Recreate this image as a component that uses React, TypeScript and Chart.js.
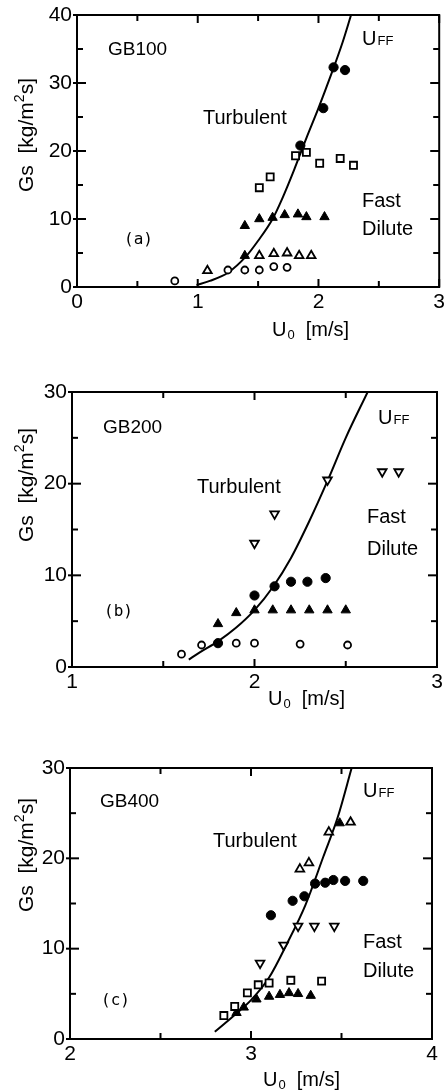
import React, { useEffect, useRef } from "react";
import { Chart, registerables } from "chart.js";
Chart.register(...registerables);

// ---------- Panel (a) GB100 ----------
const aOpenCircleU = [0.81, 1.25, 1.39, 1.51, 1.63, 1.74];
const aOpenCircleG = [0.9, 2.5, 2.5, 2.5, 3.0, 2.9];
const aOpenTriU = [1.08, 1.51, 1.63, 1.74, 1.84, 1.94];
const aOpenTriG = [2.4, 4.6, 4.9, 5.0, 4.6, 4.6];
const aFilledTriU = [1.39, 1.39, 1.51, 1.62, 1.72, 1.83, 1.9, 2.05];
const aFilledTriG = [4.6, 9.0, 10.0, 10.2, 10.6, 10.7, 10.3, 10.3];
const aOpenSquareU = [1.51, 1.6, 1.81, 1.9, 2.01, 2.18, 2.29];
const aOpenSquareG = [14.6, 16.2, 19.3, 19.8, 18.2, 18.9, 17.9];
const aFilledCircleU = [1.85, 2.04, 2.125, 2.22];
const aFilledCircleG = [20.8, 26.3, 32.3, 31.9];
const aCurveU = [0.99, 1.1, 1.25, 1.4, 1.5, 1.62, 1.7, 1.8, 1.85, 1.9, 2.0, 2.1, 2.2, 2.27];
const aCurveG = [0.3, 0.9, 2.1, 4.5, 6.8, 10.0, 13.0, 17.3, 19.6, 21.9, 26.3, 31.0, 36.0, 40];

// ---------- Panel (b) GB200 ----------
const bOpenCircleU = [1.6, 1.71, 1.9, 2.0, 2.25, 2.51];
const bOpenCircleG = [1.4, 2.4, 2.6, 2.6, 2.5, 2.4];
const bFilledCircleU = [1.8, 2.0, 2.11, 2.2, 2.29, 2.39];
const bFilledCircleG = [2.6, 7.8, 8.8, 9.3, 9.3, 9.7];
const bFilledTriU = [1.8, 1.9, 2.0, 2.1, 2.2, 2.3, 2.4, 2.5];
const bFilledTriG = [4.7, 5.9, 6.2, 6.2, 6.2, 6.2, 6.2, 6.2];
const bDownTriU = [2.0, 2.11, 2.4, 2.7, 2.79];
const bDownTriG = [13.5, 16.7, 20.4, 21.3, 21.3];
const bCurveU = [1.64, 1.7, 1.8, 1.9, 2.0, 2.1, 2.2, 2.3, 2.4, 2.5, 2.62];
const bCurveG = [0.8, 1.6, 2.8, 4.3, 6.2, 8.7, 11.9, 15.9, 20.3, 25.0, 30];

// ---------- Panel (c) GB400 ----------
const cOpenSquareU = [2.85, 2.91, 2.98, 3.04, 3.1, 3.22, 3.39];
const cOpenSquareG = [2.6, 3.6, 5.1, 6.0, 6.2, 6.5, 6.4];
const cFilledTriU = [2.92, 2.96, 3.03, 3.1, 3.16, 3.21, 3.26, 3.33, 3.49];
const cFilledTriG = [2.9, 3.5, 4.4, 4.7, 4.9, 5.1, 5.0, 4.8, 23.9];
const cDownTriU = [3.05, 3.18, 3.26, 3.35, 3.46];
const cDownTriG = [8.4, 10.4, 12.5, 12.5, 12.5];
const cFilledCircleU = [3.11, 3.23, 3.295, 3.354, 3.41, 3.455, 3.52, 3.62];
const cFilledCircleG = [13.7, 15.3, 15.8, 17.2, 17.3, 17.6, 17.5, 17.5];
const cOpenTriU = [3.27, 3.32, 3.43, 3.55];
const cOpenTriG = [18.8, 19.5, 22.9, 24.0];
const cCurveU = [2.8, 2.9, 3.0, 3.1, 3.2, 3.3, 3.4, 3.48, 3.556];
const cCurveG = [0.8, 2.5, 4.3, 6.8, 10.6, 14.8, 20.2, 24.6, 30];

// Axis ranges / labels
const aXRange = [0, 3];
const aYRange = [0, 40];
const bXRange = [1, 3];
const bYRange = [0, 30];
const cXRange = [2, 4];
const cYRange = [0, 30];
const panelNames = ["GB100", "GB200", "GB400"];
const panelTags = ["(a)", "(b)", "(c)"];

const FONT = '"Liberation Sans", Arial, sans-serif';

const pts = (xs: number[], ys: number[]) => xs.map((x, i) => ({ x, y: ys[i] }));

type Kind = "openCircle" | "filledCircle" | "openTri" | "filledTri" | "downTri" | "openSquare";

function markerStyle(kind: Kind) {
  switch (kind) {
    case "openCircle":
      return { pointStyle: "circle", pointRadius: 3.5, pointBackgroundColor: "#fff", pointBorderWidth: 1.8, pointRotation: 0 };
    case "filledCircle":
      return { pointStyle: "circle", pointRadius: 4.6, pointBackgroundColor: "#000", pointBorderWidth: 1, pointRotation: 0 };
    case "openTri":
      return { pointStyle: "triangle", pointRadius: 5, pointBackgroundColor: "#fff", pointBorderWidth: 1.8, pointRotation: 0 };
    case "filledTri":
      return { pointStyle: "triangle", pointRadius: 5.4, pointBackgroundColor: "#000", pointBorderWidth: 1, pointRotation: 0 };
    case "downTri":
      return { pointStyle: "triangle", pointRadius: 5, pointBackgroundColor: "#fff", pointBorderWidth: 1.8, pointRotation: 180 };
    case "openSquare":
      return { pointStyle: "rect", pointRadius: 5, pointBackgroundColor: "#fff", pointBorderWidth: 1.8, pointRotation: 0 };
  }
}

function series(kind: Kind, xs: number[], ys: number[]) {
  return {
    data: pts(xs, ys),
    showLine: false,
    pointBorderColor: "#000",
    order: 1,
    ...markerStyle(kind),
  };
}

function curve(xs: number[], ys: number[]) {
  return {
    data: pts(xs, ys),
    showLine: true,
    borderColor: "#000",
    borderWidth: 2,
    pointRadius: 0,
    cubicInterpolationMode: "monotone",
    order: 10,
  };
}

type PanelCfg = {
  top: number;
  height: number;
  area: { left: number; right: number; top: number; bottom: number };
  xRange: number[];
  yRange: number[];
  datasets: any[];
  name: string;
  tag: string;
  nameAt: [number, number];
  turbAt: [number, number];
  tagAt: [number, number];
  uffAt: [number, number];
  fastAt: [number, number];
  diluteAt: [number, number];
  yTitleAt: [number, number];
  xTitleAt: [number, number];
};

function decoPlugin(cfg: PanelCfg) {
  return {
    id: "deco",
    afterDraw(chart: any) {
      const { ctx, chartArea: ca, scales } = chart;
      const x = scales.x;
      const y = scales.y;
      ctx.save();
      ctx.strokeStyle = "#000";
      ctx.lineWidth = 2;
      ctx.strokeRect(ca.left, ca.top, ca.right - ca.left, ca.bottom - ca.top);
      const line = (x1: number, y1: number, x2: number, y2: number) => {
        ctx.beginPath();
        ctx.moveTo(x1, y1);
        ctx.lineTo(x2, y2);
        ctx.stroke();
      };
      for (let i = 0; cfg.xRange[0] + i * 0.5 <= cfg.xRange[1] + 1e-9; i++) {
        const v = cfg.xRange[0] + i * 0.5;
        const px = x.getPixelForValue(v);
        const L = i % 2 === 0 ? 8 : 6;
        line(px, ca.bottom, px, ca.bottom - L);
        line(px, ca.top, px, ca.top + L);
      }
      for (let i = 0; cfg.yRange[0] + i * 5 <= cfg.yRange[1] + 1e-9; i++) {
        const v = cfg.yRange[0] + i * 5;
        const py = y.getPixelForValue(v);
        const major = i % 2 === 0;
        const L = major ? 9 : 6;
        line(ca.left - (major ? 4 : 0), py, ca.left + L, py);
        line(ca.right, py, ca.right - L, py);
      }

      ctx.fillStyle = "#000";
      ctx.textBaseline = "alphabetic";
      ctx.textAlign = "left";
      ctx.font = `19px ${FONT}`;
      ctx.fillText(cfg.name, cfg.nameAt[0], cfg.nameAt[1]);
      ctx.font = `20px ${FONT}`;
      ctx.fillText("Turbulent", cfg.turbAt[0], cfg.turbAt[1]);
      ctx.fillText("Fast", cfg.fastAt[0], cfg.fastAt[1]);
      ctx.fillText("Dilute", cfg.diluteAt[0], cfg.diluteAt[1]);
      ctx.font = `20px ${FONT}`;
      ctx.fillText("U", cfg.uffAt[0], cfg.uffAt[1]);
      const uw = ctx.measureText("U").width;
      ctx.font = `13px ${FONT}`;
      ctx.fillText("FF", cfg.uffAt[0] + uw + 1, cfg.uffAt[1]);
      ctx.font = `16px "DejaVu Sans Mono", monospace`;
      ctx.textBaseline = "middle";
      ctx.fillText(cfg.tag, cfg.tagAt[0], cfg.tagAt[1]);
      ctx.textBaseline = "alphabetic";

      ctx.font = `20px ${FONT}`;
      let tx = cfg.xTitleAt[0];
      const ty = cfg.xTitleAt[1];
      ctx.fillText("U", tx, ty);
      tx += ctx.measureText("U").width + 1;
      ctx.font = `13px ${FONT}`;
      ctx.fillText("0", tx, ty + 3);
      tx += ctx.measureText("0").width;
      ctx.font = `20px ${FONT}`;
      ctx.fillText("  [m/s]", tx, ty);

      ctx.save();
      ctx.translate(cfg.yTitleAt[0], cfg.yTitleAt[1]);
      ctx.rotate(-Math.PI / 2);
      ctx.textBaseline = "middle";
      const p1 = "Gs  [kg/m";
      const p2 = "2";
      const p3 = "s]";
      ctx.font = `21px ${FONT}`;
      const w1 = ctx.measureText(p1).width;
      const w3 = ctx.measureText(p3).width;
      ctx.font = `14px ${FONT}`;
      const w2 = ctx.measureText(p2).width;
      let sx = -(w1 + w2 + w3) / 2;
      ctx.font = `21px ${FONT}`;
      ctx.fillText(p1, sx, 0);
      sx += w1;
      ctx.font = `14px ${FONT}`;
      ctx.fillText(p2, sx, -7);
      sx += w2;
      ctx.font = `21px ${FONT}`;
      ctx.fillText(p3, sx, 0);
      ctx.restore();

      ctx.restore();
    },
  };
}

function Panel({ cfg }: { cfg: PanelCfg }) {
  const ref = useRef<HTMLCanvasElement>(null);
  useEffect(() => {
    const W = 446;
    const chart = new Chart(ref.current as HTMLCanvasElement, {
      type: "scatter",
      data: { datasets: cfg.datasets },
      options: {
        animation: false,
        responsive: false,
        maintainAspectRatio: false,
        layout: {
          padding: { left: 0, top: cfg.area.top, right: W - cfg.area.right, bottom: 0 },
        },
        plugins: { legend: { display: false }, tooltip: { enabled: false } },
        scales: {
          x: {
            type: "linear",
            min: cfg.xRange[0],
            max: cfg.xRange[1],
            grid: { display: false, drawTicks: false },
            border: { display: false },
            ticks: {
              stepSize: 1,
              color: "#000",
              padding: 3,
              maxRotation: 0,
              font: { family: FONT, size: 21 },
            },
            afterFit: (s: any) => {
              s.height = cfg.height - cfg.area.bottom;
              s.paddingLeft = 0;
              s.paddingRight = 0;
            },
          },
          y: {
            type: "linear",
            min: cfg.yRange[0],
            max: cfg.yRange[1],
            grid: { display: false, drawTicks: false },
            border: { display: false },
            ticks: {
              stepSize: 10,
              color: "#000",
              padding: 5,
              font: { family: FONT, size: 21 },
            },
            afterFit: (s: any) => {
              s.width = cfg.area.left;
              s.paddingTop = 0;
              s.paddingBottom = 0;
            },
          },
        },
      } as any,
      plugins: [decoPlugin(cfg)],
    });
    return () => chart.destroy();
  }, []);
  return (
    <canvas
      ref={ref}
      width={446}
      height={cfg.height}
      style={{ position: "absolute", left: 0, top: cfg.top, width: 446, height: cfg.height }}
    />
  );
}

const panelA: PanelCfg = {
  top: 0,
  height: 345,
  area: { left: 77, right: 441, top: 15, bottom: 287 },
  xRange: aXRange,
  yRange: aYRange,
  datasets: [
    curve(aCurveU, aCurveG),
    series("openCircle", aOpenCircleU, aOpenCircleG),
    series("openTri", aOpenTriU, aOpenTriG),
    series("filledTri", aFilledTriU, aFilledTriG),
    series("openSquare", aOpenSquareU, aOpenSquareG),
    series("filledCircle", aFilledCircleU, aFilledCircleG),
  ],
  name: panelNames[0],
  tag: panelTags[0],
  nameAt: [108, 55],
  turbAt: [203, 124],
  tagAt: [124, 240],
  uffAt: [362, 45],
  fastAt: [362, 207],
  diluteAt: [362, 235],
  yTitleAt: [27, 135],
  xTitleAt: [272, 336],
};

const panelB: PanelCfg = {
  top: 345,
  height: 365,
  area: { left: 72, right: 437, top: 47, bottom: 322 },
  xRange: bXRange,
  yRange: bYRange,
  datasets: [
    curve(bCurveU, bCurveG),
    series("openCircle", bOpenCircleU, bOpenCircleG),
    series("filledTri", bFilledTriU, bFilledTriG),
    series("filledCircle", bFilledCircleU, bFilledCircleG),
    series("downTri", bDownTriU, bDownTriG),
  ],
  name: panelNames[1],
  tag: panelTags[1],
  nameAt: [103, 88],
  turbAt: [197, 148],
  tagAt: [104, 267],
  uffAt: [378, 79],
  fastAt: [367, 178],
  diluteAt: [367, 210],
  yTitleAt: [27, 140],
  xTitleAt: [268, 360],
};

const panelC: PanelCfg = {
  top: 710,
  height: 380,
  area: { left: 70, right: 432, top: 58, bottom: 329 },
  xRange: cXRange,
  yRange: cYRange,
  datasets: [
    curve(cCurveU, cCurveG),
    series("openSquare", cOpenSquareU, cOpenSquareG),
    series("filledTri", cFilledTriU, cFilledTriG),
    series("downTri", cDownTriU, cDownTriG),
    series("filledCircle", cFilledCircleU, cFilledCircleG),
    series("openTri", cOpenTriU, cOpenTriG),
  ],
  name: panelNames[2],
  tag: panelTags[2],
  nameAt: [100, 97],
  turbAt: [213, 137],
  tagAt: [101, 291],
  uffAt: [363, 87],
  fastAt: [363, 238],
  diluteAt: [363, 267],
  yTitleAt: [27, 145],
  xTitleAt: [263, 376],
};

export default function App() {
  return (
    <div style={{ position: "absolute", left: 0, top: 0, width: 446, height: 1090, background: "#fff" }}>
      <Panel cfg={panelA} />
      <Panel cfg={panelB} />
      <Panel cfg={panelC} />
    </div>
  );
}
